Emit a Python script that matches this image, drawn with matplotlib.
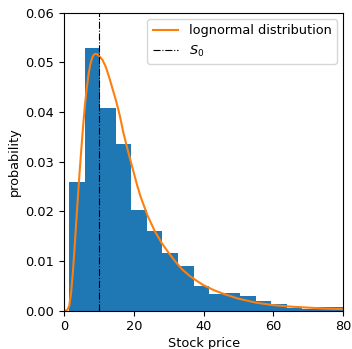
import matplotlib
matplotlib.use("Agg")
import matplotlib.pyplot as plt

# histogram of simulated stock prices (bin edges and density heights)
bin_edges = [1.5, 6.0, 10.4, 14.9, 19.3, 23.7, 28.2, 32.6, 37.1, 41.5,
             46.0, 50.4, 54.9, 59.3, 63.8, 68.2, 72.6, 77.1, 81.5]
bin_heights = [0.0258, 0.0528, 0.0408, 0.0336, 0.0202, 0.0161, 0.0115,
               0.0089, 0.0050, 0.0034, 0.0035, 0.0029, 0.0020, 0.0013,
               0.0006, 0.0004, 0.0008, 0.0007]

# lognormal density curve
curve_x = [0, 0.5, 1.0, 1.5, 2.0, 2.5, 3.0, 3.5, 4.0, 4.5, 5.0, 5.5, 6.0,
           6.5, 7.0, 7.5, 8.0, 8.5, 9.0, 9.5, 10.0, 11.0, 12.0, 13.0, 14.0,
           15.0, 16.0, 17.0, 18.0, 19.0, 20.0, 21.0, 22.0, 24.0, 26.0, 28.0,
           30.0, 32.0, 34.0, 36.0, 38.0, 40.0, 43.0, 46.0, 50.0, 55.0, 60.0,
           65.0, 70.0, 75.0, 80.0]
curve_y = [0.0, 0.0, 0.0002, 0.0010, 0.0035, 0.0075, 0.0125, 0.0180,
           0.0233, 0.0283, 0.0330, 0.0375, 0.0415, 0.0448, 0.0475, 0.0495,
           0.0508, 0.0515, 0.0517, 0.0516, 0.0513, 0.0505, 0.0490, 0.0468,
           0.0444, 0.0420, 0.0392, 0.0358, 0.0330, 0.0303, 0.0277, 0.0251,
           0.0228, 0.0190, 0.0160, 0.0136, 0.0116, 0.0098, 0.0082, 0.0070,
           0.0060, 0.0051, 0.0041, 0.0033, 0.0024, 0.0016, 0.0011, 0.0008,
           0.0006, 0.0004, 0.0003]

s0 = 10

plt.rcParams["font.size"] = 9.3

fig = plt.figure(figsize=(3.52, 3.49), dpi=100)
ax = fig.add_axes([0.182, 0.11, 0.793, 0.854])

ax.hist(bin_edges[:-1], bins=bin_edges, weights=bin_heights, color="C0")
ax.plot(curve_x, curve_y, color="C1", lw=1.5, label="lognormal distribution")
ax.axvline(s0, color="black", ls="-.", lw=0.8, label="$S_0$")

ax.set_xlim(0, 80)
ax.set_ylim(0, 0.06)
ax.set_xlabel("Stock price", labelpad=3)
ax.set_ylabel("probability", labelpad=3)
ax.legend(loc="upper right")

fig.savefig("out.png", dpi=100)
